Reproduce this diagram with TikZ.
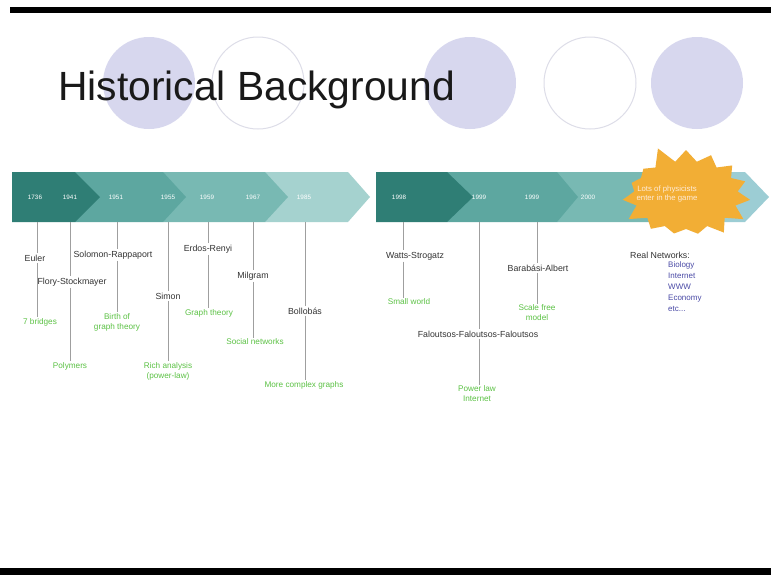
\documentclass[tikz,border=0pt]{standalone}
\usepackage{fontspec}
\setmainfont{Liberation Sans}
\usetikzlibrary{shapes.symbols}
\definecolor{lav}{HTML}{D7D7EE}
\definecolor{lavline}{HTML}{DDDDE8}
\definecolor{tA}{HTML}{2F7E75}
\definecolor{tB}{HTML}{5DA7A0}
\definecolor{tC}{HTML}{78B9B3}
\definecolor{tD}{HTML}{A5D2CF}
\definecolor{tE}{HTML}{9CCDD4}
\definecolor{notegreen}{HTML}{5CC245}
\definecolor{listblue}{HTML}{4A4AA6}
\definecolor{burstor}{HTML}{F2AE35}
\tikzset{
  lbl/.style={font=\fontsize{8.8}{10}\selectfont, text=black!80, inner sep=1.5pt},
  note/.style={font=\fontsize{8.2}{10}\selectfont, text=notegreen, inner sep=1pt, align=center},
  yr/.style={font=\fontsize{6.3}{7}\selectfont, text=white, inner sep=1pt},
  tick/.style={draw=gray!75, line width=0.6pt},
  deco/.style={circle, minimum size=92pt, inner sep=0pt},
}
\begin{document}
\begin{tikzpicture}[x=1pt,y=-1pt]
\useasboundingbox (0,0) rectangle (771,581);
\fill[white] (0,0) rectangle (771,581);
% frame bars
\fill[black] (10,7) rectangle (771,13);
\fill[black] (0,568) rectangle (771,575);
% decorative circles
\node[deco, fill=lav] (c1) at (149,83) {};
\node[deco, draw=lavline, line width=1pt] (c2) at (258,83) {};
\node[deco, fill=lav] (c3) at (470,83) {};
\node[deco, draw=lavline, line width=1pt] (c4) at (590,83) {};
\node[deco, fill=lav] (c5) at (697,83) {};
% title
\node[anchor=base west, inner sep=0pt, font=\fontsize{40.8}{44}\selectfont, text=black!90] (title) at (58,100) {Historical Background};
% left band chevrons
\fill[tD] (265,172) -- (348,172) -- (370,197) -- (348,222) -- (265,222) -- cycle;
\fill[tC] (163,172) -- (265,172) -- (288,197) -- (265,222) -- (163,222) -- cycle;
\fill[tB] (75,172) -- (163,172) -- (186,197) -- (163,222) -- (75,222) -- cycle;
\fill[tA] (12,172) -- (75,172) -- (100,197) -- (75,222) -- (12,222) -- cycle;
% right band chevrons
\fill[tE] (660,172) -- (745,172) -- (769,197) -- (745,222) -- (660,222) -- cycle;
\fill[tC] (557,172) -- (660,172) -- (684,197) -- (660,222) -- (557,222) -- cycle;
\fill[tB] (447,172) -- (557,172) -- (578,197) -- (557,222) -- (447,222) -- cycle;
\fill[tA] (376,172) -- (447,172) -- (473,197) -- (447,222) -- (376,222) -- cycle;
% burst
\node[starburst, fill=burstor, starburst points=15, starburst point height=18pt,
      minimum width=140pt, minimum height=104pt, inner sep=0pt, random starburst=5] (burst) at (686,195) {};
\node[align=center, font=\fontsize{7.8}{9.5}\selectfont, text=white!85!orange, inner sep=0pt] (bursttext) at (667,194)
      {Lots of physicists\\enter in the game};
% years
\node[yr] (y1736) at (35,197) {1736};
\node[yr] (y1941) at (70,197) {1941};
\node[yr] (y1951) at (116,197) {1951};
\node[yr] (y1955) at (168,197) {1955};
\node[yr] (y1959) at (207,197) {1959};
\node[yr] (y1967) at (253,197) {1967};
\node[yr] (y1985) at (304,197) {1985};
\node[yr] (y1998) at (399,197) {1998};
\node[yr] (y1999a) at (479,197) {1999};
\node[yr] (y1999b) at (532,197) {1999};
\node[yr] (y2000) at (588,197) {2000};
% tick origins at band bottom
\coordinate (b1736) at (37,222);
\coordinate (b1941) at (70,222);
\coordinate (b1951) at (117,222);
\coordinate (b1955) at (168,222);
\coordinate (b1959) at (208,222);
\coordinate (b1967) at (253,222);
\coordinate (b1985) at (305,222);
\coordinate (b1998) at (403,222);
\coordinate (b1999a) at (479,222);
\coordinate (b1999b) at (537,222);
% labels left
\node[lbl] (euler) at (35,258) {Euler};
\node[note] (bridges) at (40,322) {7 bridges};
\node[lbl] (flory) at (72,282) {Flory-Stockmayer};
\node[note] (polymers) at (70,366) {Polymers};
\node[lbl] (solomon) at (113,255) {Solomon-Rappaport};
\node[note] (birth) at (117,322) {Birth of\\graph theory};
\node[lbl] (simon) at (168,296) {Simon};
\node[note] (rich) at (168,371) {Rich analysis\\(power-law)};
\node[lbl] (erdos) at (208,249) {Erdos-Renyi};
\node[note] (graphth) at (209,313) {Graph theory};
\node[lbl] (milgram) at (253,276) {Milgram};
\node[note] (social) at (255,342) {Social networks};
\node[lbl] (bollobas) at (305,311) {Bollobás};
\node[note] (complex) at (304,385) {More complex graphs};
% labels right
\node[lbl] (watts) at (415,256) {Watts-Strogatz};
\node[note] (small) at (409,302) {Small world};
\node[lbl] (falou) at (478,334) {Faloutsos-Faloutsos-Faloutsos};
\node[note] (power) at (477,394) {Power law\\Internet};
\node[lbl] (barabasi) at (538,268) {Barabási-Albert};
\node[note] (scale) at (537,313) {Scale free\\model};
\node[lbl] (real) at (660,255) {Real Networks:};
\node[anchor=north west, align=left, inner sep=0pt, text=listblue,
      font=\fontsize{8}{11}\selectfont] (list) at (668,261)
      {Biology\\Internet\\WWW\\Economy\\etc...};
% ticks
\draw[tick] (b1736) -- (b1736 |- euler.north);
\draw[tick] (b1736 |- euler.south) -- (b1736 |- bridges.north);
\draw[tick] (b1941) -- (b1941 |- flory.north);
\draw[tick] (b1941 |- flory.south) -- (b1941 |- polymers.north);
\draw[tick] (b1951) -- (b1951 |- solomon.north);
\draw[tick] (b1951 |- solomon.south) -- (b1951 |- birth.north);
\draw[tick] (b1955) -- (b1955 |- simon.north);
\draw[tick] (b1955 |- simon.south) -- (b1955 |- rich.north);
\draw[tick] (b1959) -- (b1959 |- erdos.north);
\draw[tick] (b1959 |- erdos.south) -- (b1959 |- graphth.north);
\draw[tick] (b1967) -- (b1967 |- milgram.north);
\draw[tick] (b1967 |- milgram.south) -- (b1967 |- social.north);
\draw[tick] (b1985) -- (b1985 |- bollobas.north);
\draw[tick] (b1985 |- bollobas.south) -- (b1985 |- complex.north);
\draw[tick] (b1998) -- (b1998 |- watts.north);
\draw[tick] (b1998 |- watts.south) -- (b1998 |- small.north);
\draw[tick] (b1999a) -- (b1999a |- falou.north);
\draw[tick] (b1999a |- falou.south) -- (b1999a |- power.north);
\draw[tick] (b1999b) -- (b1999b |- barabasi.north);
\draw[tick] (b1999b |- barabasi.south) -- (b1999b |- scale.north);
\end{tikzpicture}
\end{document}
